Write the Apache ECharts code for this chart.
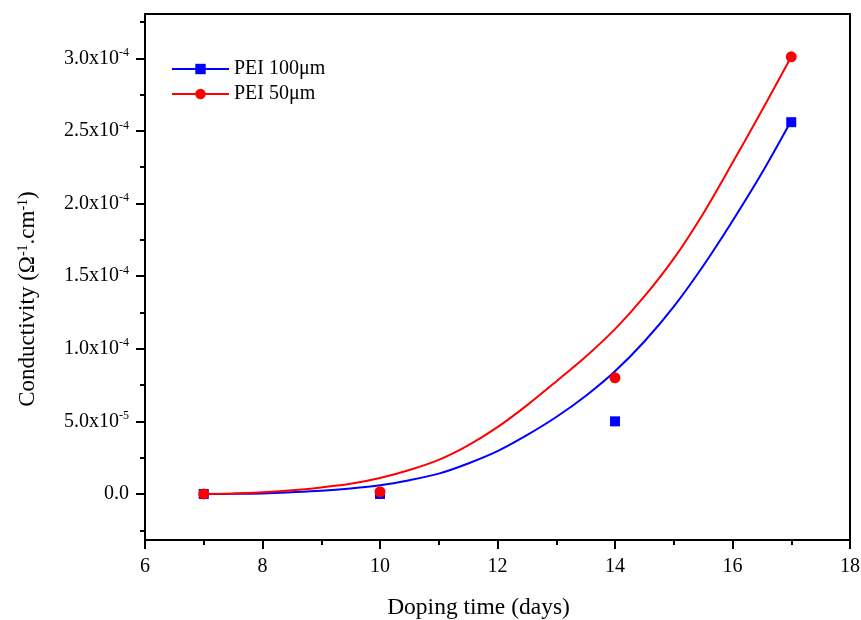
<!DOCTYPE html>
<html>
<head>
<meta charset="utf-8">
<script src="https://cdn.jsdelivr.net/npm/echarts@6/dist/echarts.min.js"></script>
<style>html,body{margin:0;padding:0;background:#fff}#c{width:861px;height:620px}</style>
</head>
<body>
<div id="c"></div>
<script>
// Measured points (conductivity in units of 1e-4 S/cm)
const pointDays = [7, 10, 14, 17];
const pei100Points = [0, 0.0, 0.50, 2.56];
const pei50Points = [0, 0.015, 0.80, 3.01];
// Fitted curves
const fitDays = [7, 7.5, 8, 8.5, 9, 9.5, 10, 10.5, 11, 11.5, 12, 12.5, 13, 13.5, 14, 14.5, 15, 15.5, 16, 16.5, 17];
const pei100Fit = [0, 0.001, 0.004, 0.012, 0.022, 0.038, 0.06, 0.095, 0.14, 0.21, 0.295, 0.405, 0.53, 0.675, 0.845, 1.05, 1.29, 1.57, 1.88, 2.21, 2.57];
const pei50Fit = [0, 0.003, 0.012, 0.025, 0.045, 0.07, 0.11, 0.165, 0.235, 0.335, 0.46, 0.61, 0.775, 0.945, 1.135, 1.36, 1.62, 1.93, 2.28, 2.64, 3.01];
// Tick labels
const yTickValues = [0, 0.5, 1.0, 1.5, 2.0, 2.5, 3.0];
const yTickLabels = ['0.0', '5.0x10|-5', '1.0x10|-4', '1.5x10|-4', '2.0x10|-4', '2.5x10|-4', '3.0x10|-4'];
const yMinorValues = [-0.25, 0.25, 0.75, 1.25, 1.75, 2.25, 2.75, 3.25];
const seriesNames = ['PEI 100\u03bcm', 'PEI 50\u03bcm'];

const S = 1e-4;
const toPairs = (xs, ys) => xs.map((x, i) => [x, ys[i] * S]);
const font = 'Liberation Serif';

const chart = echarts.init(document.getElementById('c'));
chart.setOption({
  animation: false,
  backgroundColor: '#fff',
  grid: { left: 145, right: 11, top: 14, bottom: 80, outerBoundsMode: 'none', containLabel: false,
    show: true, borderColor: '#000', borderWidth: 2, backgroundColor: 'transparent' },
  legend: {
    data: seriesNames,
    left: 166, top: 54, orient: 'vertical', itemWidth: 57, itemHeight: 13, itemGap: 5,
    textStyle: { fontFamily: font, fontSize: 20, color: '#000' }
  },
  xAxis: {
    type: 'value', min: 6, max: 18, interval: 2,
    name: 'Doping time (days)', nameLocation: 'middle', nameGap: 56,
    nameTextStyle: { fontFamily: font, fontSize: 23.5, color: '#000', padding: [0, 38, 0, 0] },
    axisLine: { show: true, onZero: false, lineStyle: { color: '#000', width: 2 } },
    axisTick: { show: true, length: 9, lineStyle: { color: '#000', width: 2 } },
    minorTick: { show: true, splitNumber: 2, length: 5, lineStyle: { color: '#000', width: 2 } },
    splitLine: { show: false },
    axisLabel: { fontFamily: font, fontSize: 20, color: '#000', margin: 17 }
  },
  yAxis: [{
    type: 'value', min: -0.317 * S, max: 3.305 * S,
    name: 'Conductivity (\u03a9{s|-1}.cm{s|-1})', nameLocation: 'middle', nameGap: 106, nameRotate: 90,
    nameTextStyle: { fontFamily: font, fontSize: 23, color: '#000', padding: [0, 44, 0, 0],
      rich: { s: { fontFamily: font, fontSize: 14, color: '#000', verticalAlign: 'top', padding: [0, 0, 8, 0] } } },
    axisLine: { show: true, onZero: false, lineStyle: { color: '#000', width: 2 } },
    axisTick: { show: true, length: 9, customValues: yTickValues.map(v => v * S), lineStyle: { color: '#000', width: 2 } },
    splitLine: { show: false },
    axisLabel: {
      customValues: yTickValues.map(v => v * S),
      margin: 16,
      formatter: function (val) {
        let best = 0;
        yTickValues.forEach((v, i) => { if (Math.abs(v * S - val) < Math.abs(yTickValues[best] * S - val)) best = i; });
        const parts = yTickLabels[best].split('|');
        return parts.length > 1 ? '{m|' + parts[0] + '}{e|' + parts[1] + '}' : '{m|' + parts[0] + '}';
      },
      rich: {
        m: { fontFamily: font, fontSize: 20, color: '#000', lineHeight: 23 },
        e: { fontFamily: font, fontSize: 12, color: '#000', verticalAlign: 'top', lineHeight: 23, padding: [0, 0, 6, 0] }
      }
    }
  }, {
    type: 'value', min: -0.317 * S, max: 3.305 * S, position: 'left',
    axisLine: { show: false, onZero: false },
    axisTick: { show: true, length: 5, customValues: yMinorValues.map(v => v * S), lineStyle: { color: '#000', width: 2 } },
    axisLabel: { show: false },
    splitLine: { show: false }
  }],
  series: [
    {
      name: seriesNames[0], type: 'line', data: toPairs(fitDays, pei100Fit),
      smooth: 0.3, symbol: 'rect', symbolSize: 10, showSymbol: false,
      lineStyle: { color: '#0000ff', width: 2 }, itemStyle: { color: '#0000ff' }, z: 2
    },
    {
      name: seriesNames[1], type: 'line', data: toPairs(fitDays, pei50Fit),
      smooth: 0.3, symbol: 'circle', symbolSize: 10, showSymbol: false,
      lineStyle: { color: '#ff0000', width: 2 }, itemStyle: { color: '#ff0000' }, z: 3
    },
    {
      name: 'pts100', type: 'scatter', data: toPairs(pointDays, pei100Points),
      symbol: 'rect', symbolSize: 10, itemStyle: { color: '#0000ff', opacity: 1 }, z: 4
    },
    {
      name: 'pts50', type: 'scatter', data: toPairs(pointDays, pei50Points),
      symbol: 'circle', symbolSize: 11, itemStyle: { color: '#ff0000', opacity: 1 }, z: 5
    }
  ]
});
</script>
</body>
</html>
